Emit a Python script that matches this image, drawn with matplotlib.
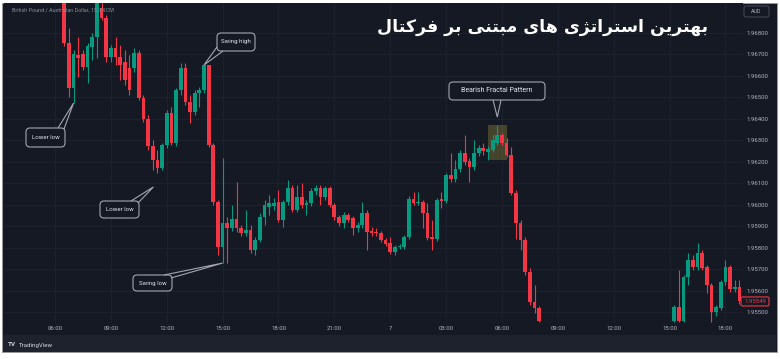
import matplotlib
matplotlib.use('Agg')
import matplotlib.pyplot as plt
from matplotlib.patches import Rectangle, FancyBboxPatch, Polygon
from matplotlib.transforms import IdentityTransform, blended_transform_factory
import numpy as np

# ---------------- data (15-minute bars, slot 0 = 06:00 of day 6) ----------------
bar_slots = list(range(2, 105)) + list(range(133, 148))

opens = [
    1.96960, 1.96753, 1.96544, 1.96697, 1.96702, 1.96642, 1.96735, 1.96781, 1.96917, 1.96870,
    1.96688, 1.96730, 1.96688, 1.96665, 1.96637, 1.96637, 1.96707, 1.96497, 1.96399, 1.96273,
    1.96208, 1.96171, 1.96278, 1.96427, 1.96287, 1.96534, 1.96637, 1.96478, 1.96432, 1.96520,
    1.96534, 1.96651, 1.96278, 1.96012, 1.95803, 1.95915, 1.95891, 1.95933, 1.95891, 1.95868,
    1.95882, 1.95789, 1.95835, 1.95943, 1.95989, 1.95994, 1.96012, 1.95929, 1.96012, 1.96078,
    1.95975, 1.96036, 1.95998, 1.96008, 1.96064, 1.96078, 1.96036, 1.96078, 1.95998, 1.95943,
    1.95915, 1.95952, 1.95938, 1.95891, 1.95905, 1.95961, 1.95877, 1.95873, 1.95868, 1.95835,
    1.95821, 1.95779, 1.95803, 1.95803, 1.95849, 1.96026, 1.96008, 1.96012, 1.95961, 1.95849,
    1.95840, 1.96026, 1.96017, 1.96138, 1.96120, 1.96166, 1.96241, 1.96204, 1.96176, 1.96241,
    1.96264, 1.96245, 1.96255, 1.96287, 1.96325, 1.96287, 1.96231, 1.96054, 1.95915, 1.95835,
    1.95686, 1.95546, 1.95518,
    1.95458, 1.95523, 1.95458, 1.95663, 1.95742, 1.95710, 1.95775, 1.95710, 1.95626, 1.95500,
    1.95518, 1.95640, 1.95710, 1.95607, 1.95616,
]
highs = [
    1.96975, 1.96823, 1.96721, 1.96781, 1.96721, 1.96753, 1.96800, 1.96960, 1.96954, 1.96884,
    1.96744, 1.96781, 1.96744, 1.96721, 1.96697, 1.96730, 1.96721, 1.96511, 1.96418, 1.96301,
    1.96255, 1.96287, 1.96441, 1.96455, 1.96544, 1.96660, 1.96660, 1.96511, 1.96534, 1.96548,
    1.96651, 1.96651, 1.96287, 1.96022, 1.96217, 1.95943, 1.95998, 1.96106, 1.95905, 1.95975,
    1.95905, 1.95849, 1.95961, 1.96022, 1.96045, 1.96031, 1.96068, 1.96022, 1.96115, 1.96092,
    1.96092, 1.96101, 1.96022, 1.96078, 1.96092, 1.96092, 1.96087, 1.96087, 1.96008, 1.95952,
    1.95966, 1.95961, 1.95947, 1.95919, 1.96012, 1.95975, 1.95896, 1.95891, 1.95877, 1.95845,
    1.95849, 1.95812, 1.95817, 1.95859, 1.96040, 1.96059, 1.96059, 1.96022, 1.96008, 1.95929,
    1.96031, 1.96059, 1.96148, 1.96241, 1.96208, 1.96255, 1.96325, 1.96217, 1.96301, 1.96278,
    1.96287, 1.96273, 1.96325, 1.96371, 1.96334, 1.96311, 1.96269, 1.96068, 1.95929, 1.95849,
    1.95705, 1.95626, 1.95528,
    1.95532, 1.95696, 1.95672, 1.95775, 1.95765, 1.95821, 1.95789, 1.95719, 1.95635, 1.95532,
    1.95649, 1.95742, 1.95719, 1.95649, 1.95649,
]
lows = [
    1.96739, 1.96502, 1.96474, 1.96595, 1.96628, 1.96567, 1.96674, 1.96683, 1.96860, 1.96665,
    1.96665, 1.96651, 1.96581, 1.96558, 1.96511, 1.96618, 1.96488, 1.96385, 1.96255, 1.96162,
    1.96148, 1.96162, 1.96264, 1.96278, 1.96273, 1.96511, 1.96464, 1.96381, 1.96418, 1.96455,
    1.96520, 1.96269, 1.95998, 1.95765, 1.95728, 1.95728, 1.95877, 1.95873, 1.95854, 1.95854,
    1.95775, 1.95765, 1.95826, 1.95905, 1.95952, 1.95975, 1.95919, 1.95896, 1.95998, 1.95966,
    1.95966, 1.95984, 1.95952, 1.95994, 1.96045, 1.95998, 1.96022, 1.95989, 1.95929, 1.95901,
    1.95891, 1.95919, 1.95859, 1.95873, 1.95891, 1.95789, 1.95854, 1.95854, 1.95826, 1.95807,
    1.95770, 1.95765, 1.95793, 1.95793, 1.95840, 1.95998, 1.95998, 1.95891, 1.95835, 1.95789,
    1.95831, 1.95984, 1.96008, 1.96106, 1.96106, 1.96152, 1.96185, 1.96106, 1.96162, 1.96227,
    1.96231, 1.96208, 1.96245, 1.96278, 1.96278, 1.96222, 1.96045, 1.95840, 1.95789, 1.95672,
    1.95532, 1.95495, 1.95453,
    1.95453, 1.95453, 1.95453, 1.95626, 1.95696, 1.95696, 1.95696, 1.95588, 1.95453, 1.95481,
    1.95509, 1.95626, 1.95593, 1.95593, 1.95537,
]
closes = [
    1.96753, 1.96544, 1.96702, 1.96683, 1.96642, 1.96739, 1.96781, 1.96940, 1.96870, 1.96688,
    1.96730, 1.96688, 1.96651, 1.96581, 1.96534, 1.96707, 1.96497, 1.96399, 1.96273, 1.96208,
    1.96171, 1.96278, 1.96427, 1.96287, 1.96534, 1.96637, 1.96478, 1.96432, 1.96520, 1.96534,
    1.96651, 1.96278, 1.96012, 1.95803, 1.95915, 1.95891, 1.95933, 1.95891, 1.95868, 1.95882,
    1.95789, 1.95835, 1.95943, 1.95998, 1.96008, 1.96008, 1.95929, 1.96012, 1.96078, 1.95975,
    1.96036, 1.95998, 1.96008, 1.96064, 1.96078, 1.96036, 1.96078, 1.95998, 1.95943, 1.95915,
    1.95952, 1.95929, 1.95891, 1.95905, 1.95961, 1.95873, 1.95868, 1.95868, 1.95835, 1.95817,
    1.95779, 1.95803, 1.95807, 1.95849, 1.96026, 1.96008, 1.96012, 1.95961, 1.95845, 1.95840,
    1.96022, 1.96017, 1.96138, 1.96120, 1.96166, 1.96241, 1.96199, 1.96176, 1.96241, 1.96264,
    1.96250, 1.96259, 1.96301, 1.96325, 1.96287, 1.96231, 1.96054, 1.95915, 1.95835, 1.95686,
    1.95546, 1.95518, 1.95458,
    1.95523, 1.95458, 1.95663, 1.95742, 1.95710, 1.95775, 1.95705, 1.95626, 1.95500, 1.95523,
    1.95640, 1.95710, 1.95607, 1.95616, 1.95549,
]

time_tick_slots = [0, 12, 24, 36, 48, 60, 72, 84, 96, 108, 120, 132, 144]
time_tick_labels = ['06:00', '09:00', '12:00', '15:00', '18:00', '21:00', '7',
                    '03:00', '06:00', '09:00', '12:00', '15:00', '18:00']
price_levels = [1.955, 1.956, 1.957, 1.958, 1.959, 1.960, 1.961, 1.962,
                1.963, 1.964, 1.965, 1.966, 1.967, 1.968]

symbol_text = 'British Pound / Australian Dollar, 15, FXCM'
title_text = 'بهترین استراتژی های مبتنی بر فرکتال'
callouts = [  # text, anchor bar slot, anchor field
    ('Lower low', 4, 'low'),
    ('Swing high', 32, 'high'),
    ('Lower low', 22, 'low'),
    ('Swing low', 36, 'low'),
    ('Bearish Fractal Pattern', 95, 'high'),
]
fractal_slot = 95

assert len(bar_slots) == len(opens) == len(highs) == len(lows) == len(closes)

# ---------------- simple Persian shaping (matplotlib has no text shaping) ----------------
FORMS = {
    'ا': ('\uFE8D', '\uFE8E', None, None),
    'ب': ('\uFE8F', '\uFE90', '\uFE91', '\uFE92'),
    'ت': ('\uFE95', '\uFE96', '\uFE97', '\uFE98'),
    'ر': ('\uFEAD', '\uFEAE', None, None),
    '\u0698': ('\uFB8A', '\uFB8B', None, None),
    'س': ('\uFEB1', '\uFEB2', '\uFEB3', '\uFEB4'),
    'ف': ('\uFED1', '\uFED2', '\uFED3', '\uFED4'),
    '\u06A9': ('\uFB8E', '\uFB8F', '\uFB90', '\uFB91'),
    '\u0643': ('\uFED9', '\uFEDA', '\uFEDB', '\uFEDC'),
    'ل': ('\uFEDD', '\uFEDE', '\uFEDF', '\uFEE0'),
    'م': ('\uFEE1', '\uFEE2', '\uFEE3', '\uFEE4'),
    'ن': ('\uFEE5', '\uFEE6', '\uFEE7', '\uFEE8'),
    'ه': ('\uFEE9', '\uFEEA', '\uFEEB', '\uFEEC'),
    '\u06CC': ('\uFBFC', '\uFBFD', '\uFBFE', '\uFBFF'),
    '\u064A': ('\uFBFC', '\uFBFD', '\uFBFE', '\uFBFF'),
}


def shape_rtl(text):
    out = []
    for i, ch in enumerate(text):
        if ch not in FORMS:
            out.append(ch)
            continue
        prev = text[i - 1] if i > 0 else None
        nxt = text[i + 1] if i + 1 < len(text) else None
        jp = prev in FORMS and FORMS[prev][2] is not None
        jn = nxt in FORMS and FORMS[ch][2] is not None
        iso, fin, ini, med = FORMS[ch]
        out.append(med if (jp and jn) else fin if jp else ini if jn else iso)
    return ''.join(reversed(out))


# ---------------- figure ----------------
plt.rcParams['font.family'] = ['Roboto', 'DejaVu Sans']
W, H = 780, 359
fig = plt.figure(figsize=(W / 100, H / 100), dpi=100, facecolor='white')
ID = IdentityTransform()


def P(px, py):
    return (px, H - py)


BG = '#151924'
GRID = '#1f2330'
UP = '#089981'
DN = '#f23645'
TXT = '#b2b5be'
EDGE = '#a3a6af'

fig.patches.append(Rectangle(P(2, 352), 775, 349, transform=ID, facecolor=BG,
                             edgecolor='#9a9a9a', lw=0.6, zorder=-2))
fig.patches.append(Rectangle(P(3, 352), 773, 17, transform=ID, facecolor='#1e222d',
                             edgecolor='none', zorder=-1))

pane_l, pane_r, pane_t, pane_b = 4, 743, 3, 335
ax = fig.add_axes([pane_l / W, (H - pane_b) / H, (pane_r - pane_l) / W, (pane_b - pane_t) / H])
ax.set_zorder(1)
ax.set_facecolor(BG)
for s in ax.spines.values():
    s.set_visible(False)

px_per_price = 21460.0
ref_price, ref_py = 1.968, 33
slot0_px, px_per_slot = 55.0, 4.656
ax.set_ylim(ref_price - (pane_b - ref_py) / px_per_price, ref_price + (ref_py - pane_t) / px_per_price)
ax.set_xlim((pane_l - slot0_px) / px_per_slot, (pane_r - slot0_px) / px_per_slot)

# grid
for lvl in price_levels:
    ax.axhline(lvl, color=GRID, lw=0.6, zorder=0)
for t in time_tick_slots:
    ax.axvline(t, ymin=(pane_b - 322) / (pane_b - pane_t), color=GRID, lw=0.6, zorder=0)

# candles
x = np.array(bar_slots, dtype=float)
o = np.array(opens); h = np.array(highs); l = np.array(lows); c = np.array(closes)
cols = np.where(c >= o, UP, DN)
ax.vlines(x, l, h, colors=cols, lw=0.8, zorder=2)
bottom = np.minimum(o, c)
height = np.maximum(np.abs(c - o), 1.0 / px_per_price)
ax.bar(x, height, bottom=bottom, width=0.8, color=cols, lw=0, zorder=3)

# fractal highlight
fi = bar_slots.index(fractal_slot)
f_top = highs[fi]
f_bot = min(lows[fi - 2:fi + 3])
ax.add_patch(Rectangle((fractal_slot - 2.05, f_bot), 4.1, f_top - f_bot,
                       facecolor='#a8a040', alpha=0.32, edgecolor='none', zorder=1))

# axes ticks
ax.set_xticks([])
ax.yaxis.tick_right()
ax.set_yticks(price_levels)
ax.set_yticklabels([f'{v:.5f}' for v in price_levels])
ax.tick_params(axis='y', length=0, pad=2.5, labelsize=4.3, labelcolor=TXT)

tb = blended_transform_factory(ax.transData, ax.transAxes)
for t, lab in zip(time_tick_slots, time_tick_labels):
    ax.text(t, (pane_b - 328) / (pane_b - pane_t), lab, transform=tb, ha='center', va='center',
            fontsize=4.3, color=TXT)

# header texts
fig.text(*P(12, 10.5), symbol_text, transform=ID, ha='left', va='center', fontsize=3.9,
         color='#8a8e99', zorder=10)
fig.text(*P(708, 27), shape_rtl(title_text), transform=ID, ha='right', va='center',
         fontsize=12.5, fontweight='bold', color='white', family=['DejaVu Sans'], zorder=10)

# AUD box
fig.patches.append(FancyBboxPatch(P(744, 17), 25, 11, boxstyle='round,pad=0,rounding_size=2',
                                  transform=ID, fc=BG, ec='#50535e', lw=0.6, zorder=5))
fig.text(*P(756.5, 11.5), 'AUD', transform=ID, ha='center', va='center', fontsize=3.8,
         color=TXT, zorder=10)

# last price label
last_y = ax.transData.transform((0, closes[-1]))[1]
fig.patches.append(FancyBboxPatch((741, last_y - 4.5), 28, 9, boxstyle='round,pad=0,rounding_size=1.5',
                                  transform=ID, fc=BG, ec=DN, lw=0.8, zorder=5))
fig.text(755, last_y, f'{closes[-1]:.5f}', transform=ID, ha='center', va='center', fontsize=4.3,
         color=DN, zorder=10)

# callouts
layout = [  # box (x0, y0, x1, y1) px, tail base points, tip offset px, font size
    ((26, 128, 65, 147), (58, 128), (64, 129), (0, 0), 4.4),
    ((217, 33, 255, 51), (217, 47), (223, 51), (0, 0), 4.4),
    ((100, 201, 139, 218), (131, 201), (138, 203), (-4, 14), 4.4),
    ((133, 275, 172, 291), (164, 275), (171, 278), (0, 0), 4.4),
    ((449, 82, 545, 100), (493, 100), (501, 100), (0, -8), 5.0),
]
for (text, slot, field), (box, b1, b2, off, fs) in zip(callouts, layout):
    idx = bar_slots.index(slot)
    val = lows[idx] if field == 'low' else highs[idx]
    tx, ty = ax.transData.transform((slot, val))
    tip = (tx + off[0], ty - off[1])
    x0, y0, x1, y1 = box
    fig.patches.append(FancyBboxPatch(P(x0, y1), x1 - x0, y1 - y0, boxstyle='round,pad=0,rounding_size=4',
                                      transform=ID, fc=BG, ec=EDGE, lw=0.8, zorder=6))
    fig.patches.append(Polygon([P(*b1), tip, P(*b2)], closed=False, fill=False, ec=EDGE, lw=0.8,
                               transform=ID, zorder=7))
    fig.text(*P((x0 + x1) / 2, (y0 + y1) / 2), text, transform=ID, ha='center', va='center',
             fontsize=fs, color='#e0e3eb', zorder=8)

# TradingView logo
fig.text(*P(8, 345), 'TV', transform=ID, ha='left', va='center', fontsize=4.6, fontweight='bold',
         color='#d1d4dc', zorder=10)
fig.text(*P(19, 345), 'TradingView', transform=ID, ha='left', va='center', fontsize=4.4,
         color='#d1d4dc', zorder=10)

fig.savefig('out.png', dpi=100, facecolor=fig.get_facecolor())
